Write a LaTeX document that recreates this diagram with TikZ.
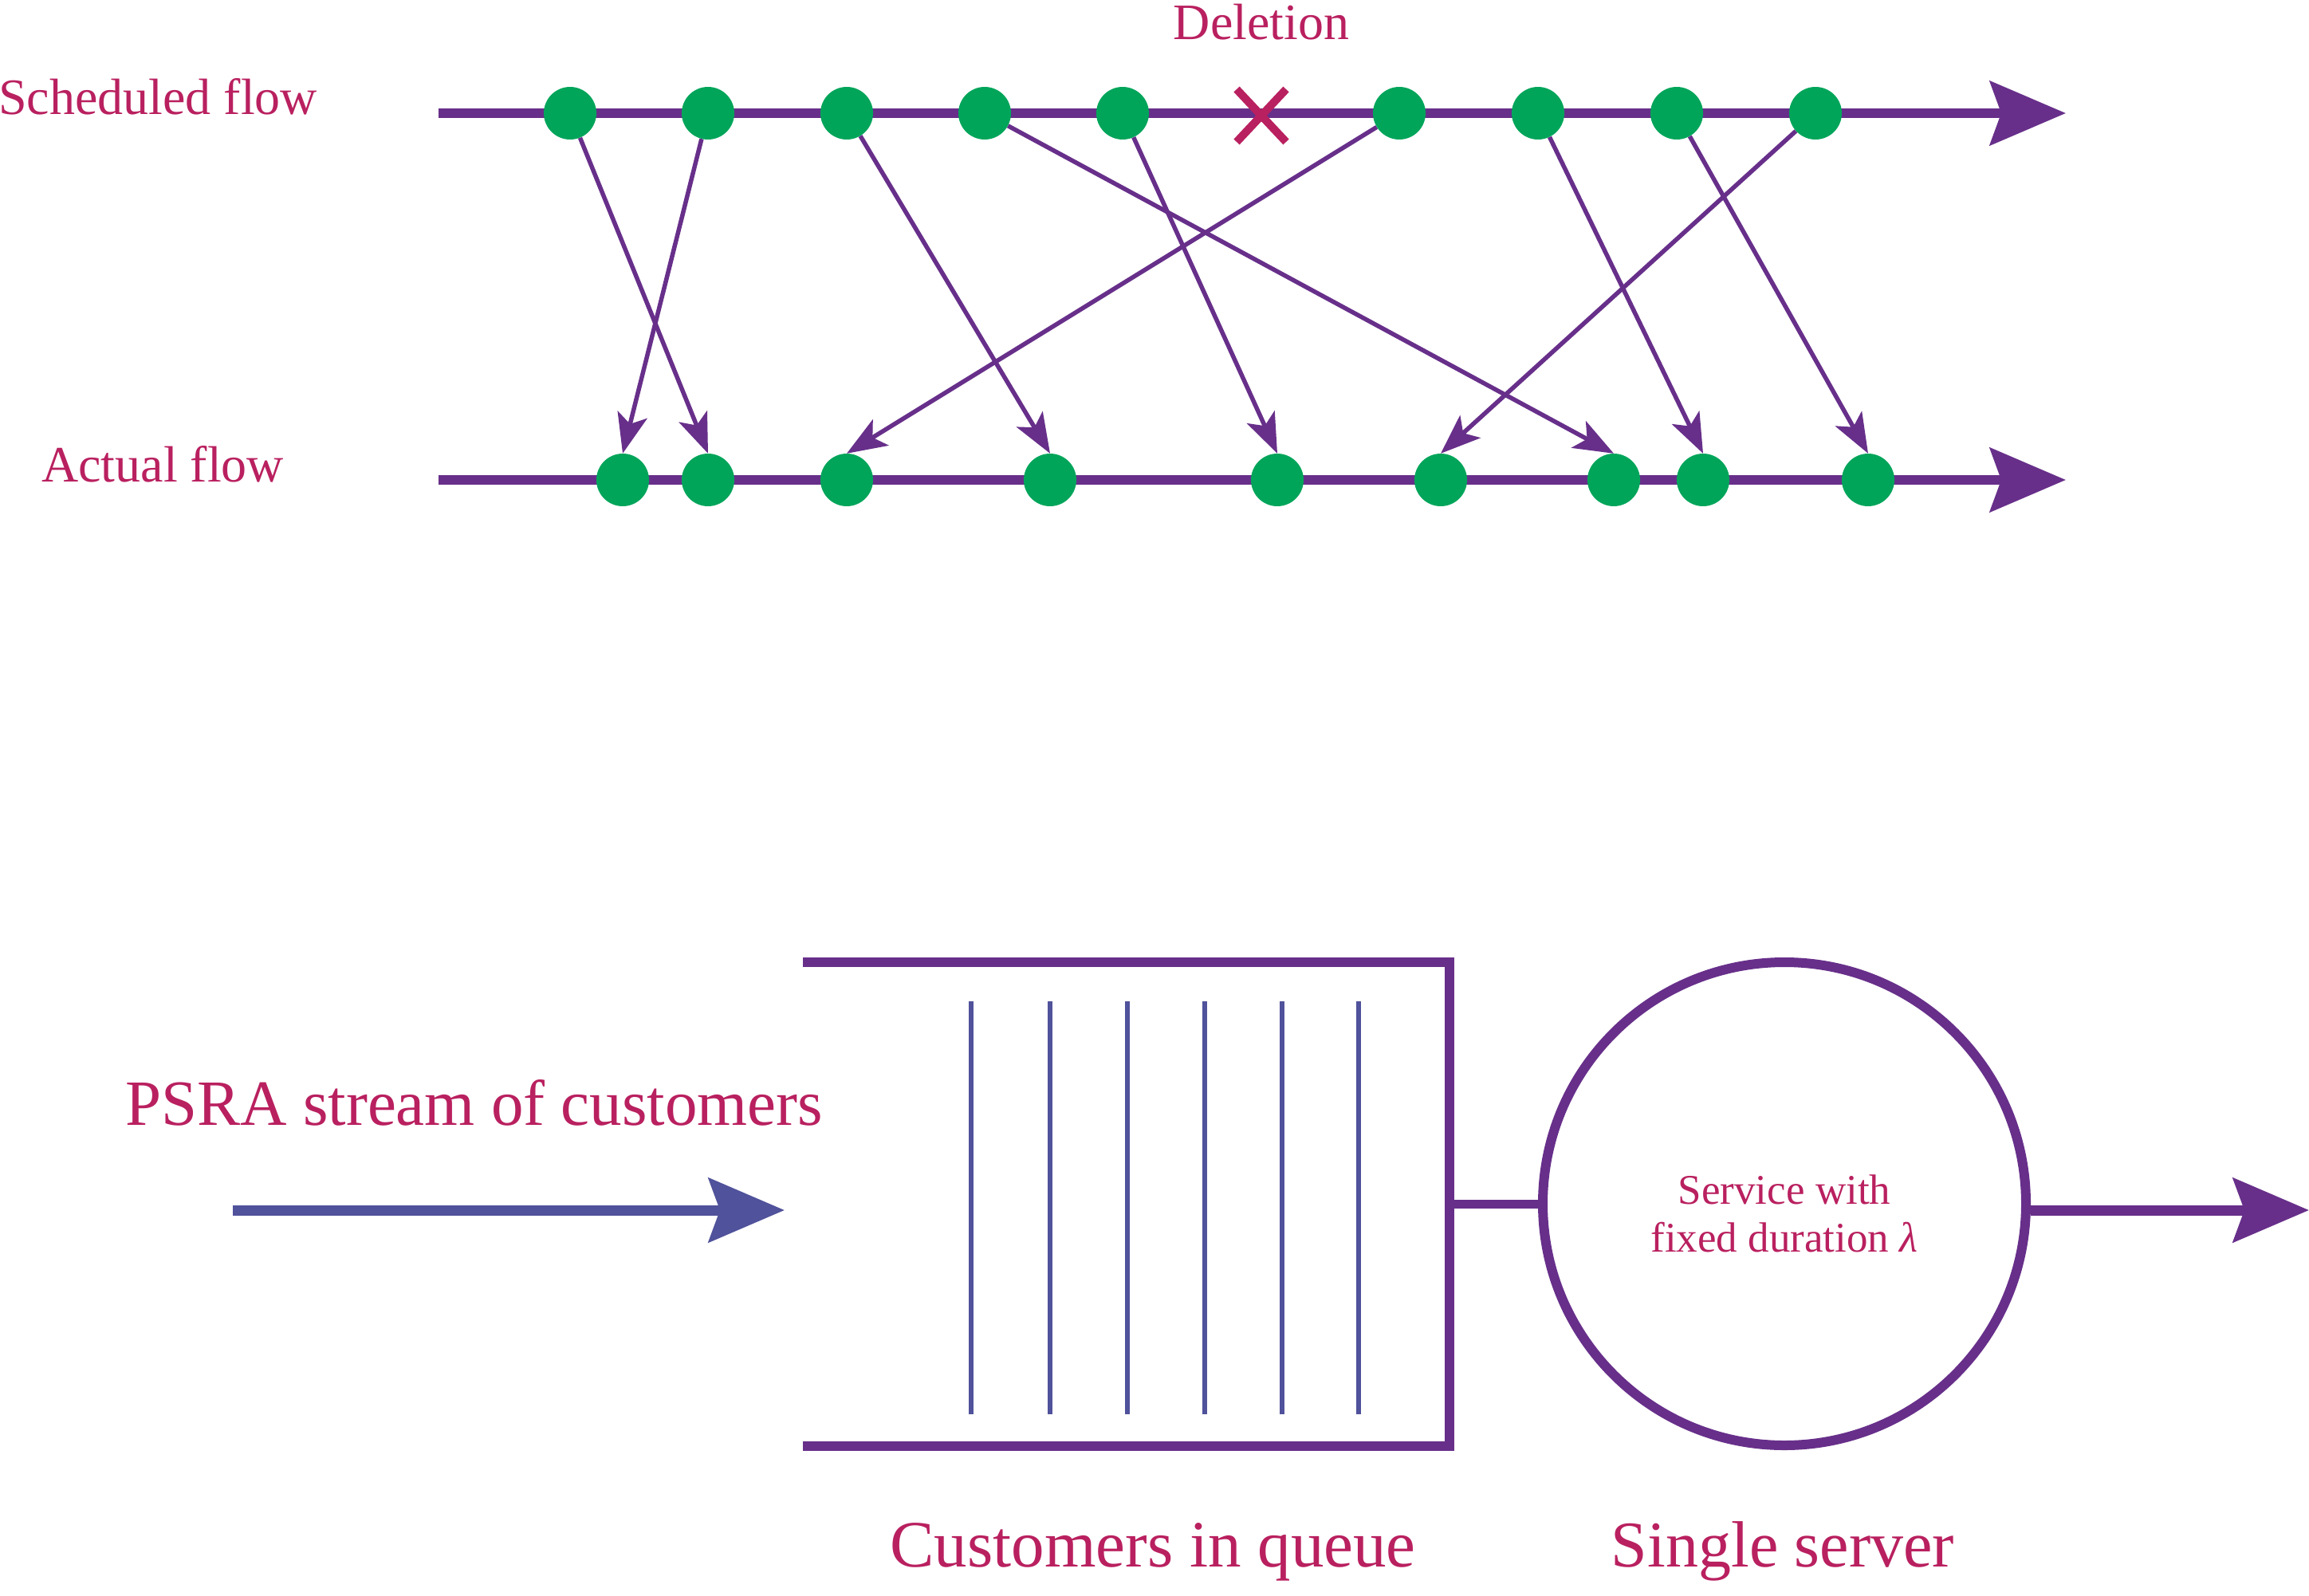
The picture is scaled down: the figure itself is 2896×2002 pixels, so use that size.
\documentclass[tikz,border=0pt]{standalone}
\usepackage{fontspec}
\setmainfont{Liberation Serif}
\usetikzlibrary{arrows.meta,backgrounds}
\definecolor{lpurple}{RGB}{103,47,138}
\definecolor{dgreen}{RGB}{0,165,90}
\definecolor{lcrimson}{RGB}{185,32,95}
\definecolor{qblue}{RGB}{80,82,155}
\begin{document}
\begin{tikzpicture}[x=1pt,y=-1pt,
  dot/.style={circle,fill=dgreen,inner sep=0pt,minimum size=66pt},
  flowline/.style={draw=lpurple,line width=12pt,-{Stealth[length=95pt,width=80pt,inset=14pt]}},
  movearrow/.style={draw=lpurple,line width=5.5pt,-{Stealth[length=50pt,width=38pt,inset=12pt]}},
  lbl/.style={text=lcrimson,inner sep=0pt,font=\fontsize{64}{72}\selectfont},
  biglbl/.style={text=lcrimson,inner sep=0pt,font=\fontsize{82}{96}\selectfont},
  smalllbl/.style={text=lcrimson,inner sep=0pt,font=\fontsize{53}{60}\selectfont},
  queueline/.style={draw=qblue,line width=6pt},
  wall/.style={draw=lpurple,line width=12pt},
]
\useasboundingbox (0,0) rectangle (2896,2002);

% ---------- top part ----------
\coordinate (s0) at (550,142);
\coordinate (s1) at (2591,142);
\coordinate (a0) at (550,602);
\coordinate (a1) at (2591,602);

\node[lbl,anchor=base west] (sched) at (-2,143) {Scheduled flow};
\node[lbl,anchor=base west] (actual) at (52,604) {Actual flow};
\node[lbl,anchor=base] (del) at (1582,49) {Deletion};

% dots
\foreach \n/\x in {1/715,2/888,3/1062,4/1235,5/1408,6/1755,7/1929,8/2103,9/2277}
  \node[dot] (T\n) at (\x,142) {};
\foreach \n/\x in {1/781,2/888,3/1062,4/1317,5/1602,6/1807,7/2024,8/2136,9/2343}
  \node[dot] (B\n) at (\x,602) {};

\begin{pgfonlayer}{background}
  \draw[flowline] (s0) -- (s1);
  \draw[flowline] (a0) -- (a1);
  \foreach \t/\b in {1/2,2/1,3/4,4/7,5/5,6/3,7/8,8/9,9/6}
    \draw[movearrow] (T\t) -- (B\b.north);
\end{pgfonlayer}

% deletion cross
\coordinate (xc) at (1582,145);
\draw[draw=lcrimson,line width=10pt] ([shift={(-31,-33)}]xc) -- ([shift={(31,33)}]xc);
\draw[draw=lcrimson,line width=10pt] ([shift={(-31,33)}]xc) -- ([shift={(31,-33)}]xc);

% ---------- bottom part ----------
\node[biglbl,anchor=base west,font=\fontsize{81}{96}\selectfont] (psra) at (157,1411) {PSRA stream of customers};
\coordinate (in0) at (292,1518);
\coordinate (in1) at (984,1518);
\draw[draw=qblue,line width=13pt,-{Stealth[length=95pt,width=80pt,inset=14pt]}] (in0) -- (in1);

\coordinate (q0) at (1007,1207);
\coordinate (q1) at (1818,1207);
\coordinate (q2) at (1818,1814);
\coordinate (q3) at (1007,1814);
\draw[wall] (q0) -- (q1) -- (q2) -- (q3);

\foreach \n/\x in {1/1218,2/1317,3/1414,4/1511,5/1608,6/1704}{
  \coordinate (ct\n) at (\x,1256);
  \coordinate (cb\n) at (\x,1774);
  \draw[queueline] (ct\n) -- (cb\n);
}

\node[draw=lpurple,line width=12pt,circle,minimum size=606pt,inner sep=0pt] (server) at (2238,1510) {};
\coordinate (qmid) at (1818,1510);
\draw[draw=lpurple,line width=11pt] (qmid) -- (server.west);

\node[smalllbl,anchor=base] (svc1) at (2238,1510) {Service with};
\node[smalllbl,anchor=base] (svc2) at (2238,1570) {fixed duration \textit{λ}};

\coordinate (out1) at (2896,1518);
\draw[draw=lpurple,line width=13pt,-{Stealth[length=95pt,width=80pt,inset=14pt]}] ([yshift=-8pt]server.east) -- (out1);

\node[biglbl,anchor=base,font=\fontsize{83}{96}\selectfont] (cq) at (1446,1965) {Customers in queue};
\node[biglbl,anchor=base] (ss) at (2236,1965) {Single server};
\end{tikzpicture}
\end{document}
